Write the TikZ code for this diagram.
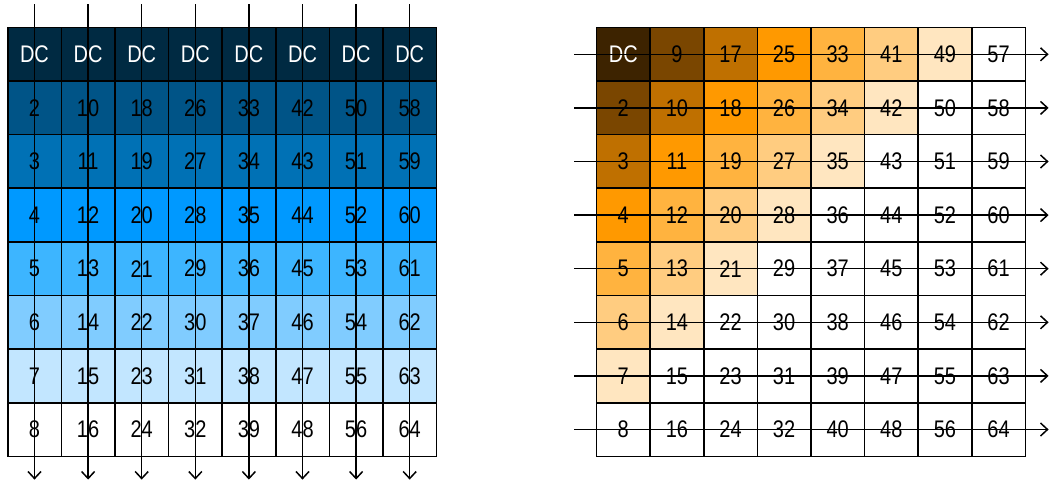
\documentclass[tikz,border=0pt]{standalone}
\usepackage{fontspec}
\setmainfont{Liberation Sans}
\usetikzlibrary{arrows.meta}
% blue rows (left), orange diagonals (right)
\definecolor{bc1}{HTML}{002A42}
\definecolor{bc2}{HTML}{005487}
\definecolor{bc3}{HTML}{0071B5}
\definecolor{bc4}{HTML}{0099FF}
\definecolor{bc5}{HTML}{3DB5FF}
\definecolor{bc6}{HTML}{80CCFF}
\definecolor{bc7}{HTML}{C2E6FF}
\definecolor{bc8}{HTML}{FFFFFF}
\definecolor{oc0}{HTML}{3D2300}
\definecolor{oc1}{HTML}{7A4600}
\definecolor{oc2}{HTML}{BF7000}
\definecolor{oc3}{HTML}{FF9900}
\definecolor{oc4}{HTML}{FFB33F}
\definecolor{oc5}{HTML}{FFCC80}
\definecolor{oc6}{HTML}{FFE6C0}
\definecolor{oc7}{HTML}{FFFFFF}
\newcommand{\celltxt}[1]{\scalebox{1}[1.2]{#1}}
\begin{document}
\begin{tikzpicture}[
  x=1pt, y=-1pt,
  cell/.style={rectangle, draw=black, line width=1.6pt, minimum width=53.6pt, minimum height=53.6pt, inner sep=0pt, font=\fontsize{20}{24}\selectfont},
  scan/.style={-{Straight Barb[length=7pt,width=13pt]}, line width=1.5pt}
]
\useasboundingbox (0,0) rectangle (1052,481);
% left grid: column scan
\foreach \c/\off in {1/0,2/8,3/16,4/24,5/31,6/40,7/48,8/56} {
  \foreach \r in {1,...,8} {
    \pgfmathtruncatemacro{\val}{\off+\r}
    \ifnum\r=1 \def\txt{\textcolor{white}{DC}}\else\edef\txt{\val}\fi
    \node[cell, fill=bc\r] (L-\r-\c) at ({7.7+(\c-0.5)*53.6}, {27.5+(\r-0.5)*53.6}) {\celltxt{\txt}};
  }
}
\foreach \c in {1,...,8} {
  \coordinate (ltop-\c) at ([yshift=22.5pt]L-1-\c.north);
  \coordinate (lbot-\c) at ([yshift=-22.5pt]L-8-\c.south);
  \draw[scan] (ltop-\c) -- (lbot-\c);
}
% right grid: zig-zag order by diagonals
\foreach \c in {1,...,8} {
  \foreach \r in {1,...,8} {
    \pgfmathtruncatemacro{\val}{(\c-1)*8+\r}
    \pgfmathtruncatemacro{\d}{min(\r+\c-2,7)}
    \ifnum\val=1 \def\txt{\textcolor{white}{DC}}\else\edef\txt{\val}\fi
    \node[cell, fill=oc\d] (R-\r-\c) at ({596.5+(\c-0.5)*53.6}, {27.5+(\r-0.5)*53.6}) {\celltxt{\txt}};
  }
}
\foreach \r in {1,...,8} {
  \coordinate (rin-\r) at ([xshift=-21.5pt]R-\r-1.west);
  \coordinate (rout-\r) at ([xshift=22.5pt]R-\r-8.east);
  \draw[scan] (rin-\r) -- (rout-\r);
}
\end{tikzpicture}
\end{document}
